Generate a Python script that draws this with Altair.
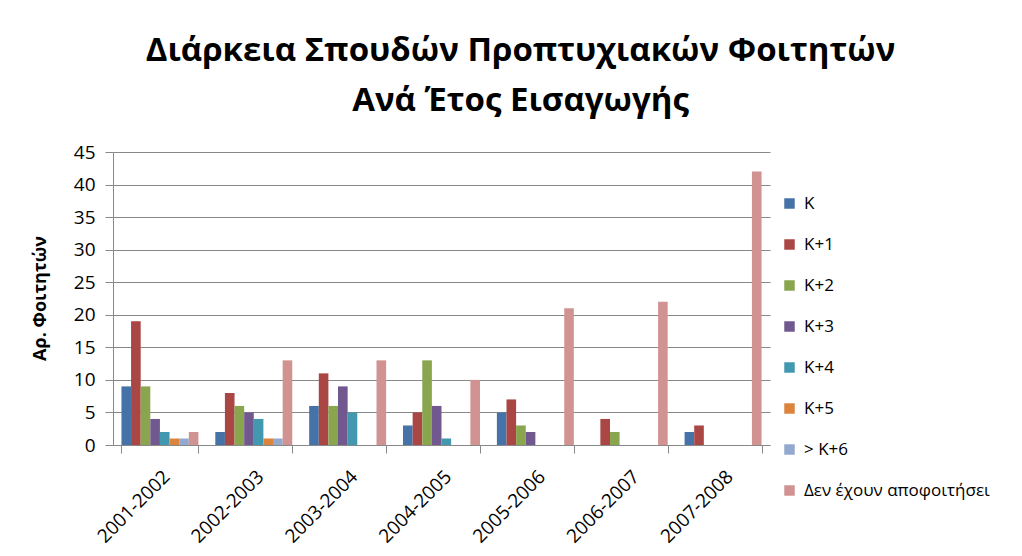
import altair as alt
import pandas as pd

years = ["2001-2002", "2002-2003", "2003-2004", "2004-2005", "2005-2006", "2006-2007", "2007-2008"]
series = ["K", "K+1", "K+2", "K+3", "K+4", "K+5", "> K+6", "Δεν έχουν αποφοιτήσει"]
colors = ["#4572A7", "#AA4643", "#89A54E", "#71588F", "#4198AF", "#DB843D", "#93A9CF", "#D19392"]

v_k = [9, 2, 6, 3, 5, 0, 2]
v_k1 = [19, 8, 11, 5, 7, 4, 3]
v_k2 = [9, 6, 6, 13, 3, 2, 0]
v_k3 = [4, 5, 9, 6, 2, 0, 0]
v_k4 = [2, 4, 5, 1, 0, 0, 0]
v_k5 = [1, 1, 0, 0, 0, 0, 0]
v_k6 = [1, 1, 0, 0, 0, 0, 0]
v_den = [2, 13, 13, 10, 21, 22, 42]

all_vals = [v_k, v_k1, v_k2, v_k3, v_k4, v_k5, v_k6, v_den]
rows = []
for s, vals in zip(series, all_vals):
    for y, v in zip(years, vals):
        rows.append({"year": y, "series": s, "value": v})
df = pd.DataFrame(rows)

FONT = "Open Sans"

chart = alt.Chart(df).mark_bar().encode(
    x=alt.X("year:N", sort=years,
            scale=alt.Scale(paddingInner=0.18, paddingOuter=0.09),
            axis=alt.Axis(title=None, labelAngle=-45, tickBand="extent", tickSize=8,
                          labelFontSize=19, labelColor="#000", labelFont=FONT,
                          domainColor="#888", tickColor="#888", labelPadding=14)),
    xOffset=alt.XOffset("series:N", sort=series, scale=alt.Scale(paddingInner=0, paddingOuter=0)),
    y=alt.Y("value:Q", scale=alt.Scale(domain=[0, 45], nice=False),
            axis=alt.Axis(title="Αρ. Φοιτητών", values=list(range(0, 46, 5)), tickSize=8,
                          labelFontSize=19, labelColor="#000", labelFont=FONT, labelPadding=10,
                          titleFontSize=18, titleFont=FONT, titleFontWeight="bold", titleColor="#000",
                          titleX=-73, titleY=146, titleAngle=-90, titleBaseline="middle", titleAlign="center",
                          domainColor="#888", tickColor="#888", gridColor="#888", grid=True)),
    color=alt.Color("series:N", sort=series, scale=alt.Scale(domain=series, range=colors),
                    legend=alt.Legend(title=None, orient="none", legendX=668, legendY=43,
                                      symbolType="square", symbolSize=110, symbolStrokeWidth=0,
                                      labelFontSize=17, labelFont=FONT, labelColor="#000",
                                      labelLimit=400, rowPadding=23, labelOffset=6)),
).properties(
    width=657, height=293,
    title=alt.TitleParams(text=["Διάρκεια Σπουδών Προπτυχιακών Φοιτητών", "Ανά Έτος Εισαγωγής"],
                          font=FONT, fontSize=33, fontWeight="bold", color="#000",
                          anchor="middle", frame="group", lineHeight=50, dx=79, offset=25),
    autosize=alt.AutoSizeParams(type="none"),
    padding={"left": 105, "top": 144, "right": 240, "bottom": 104},
).configure_view(strokeWidth=0)

chart.save("out.html", embed_options={"renderer": "svg", "actions": False})
